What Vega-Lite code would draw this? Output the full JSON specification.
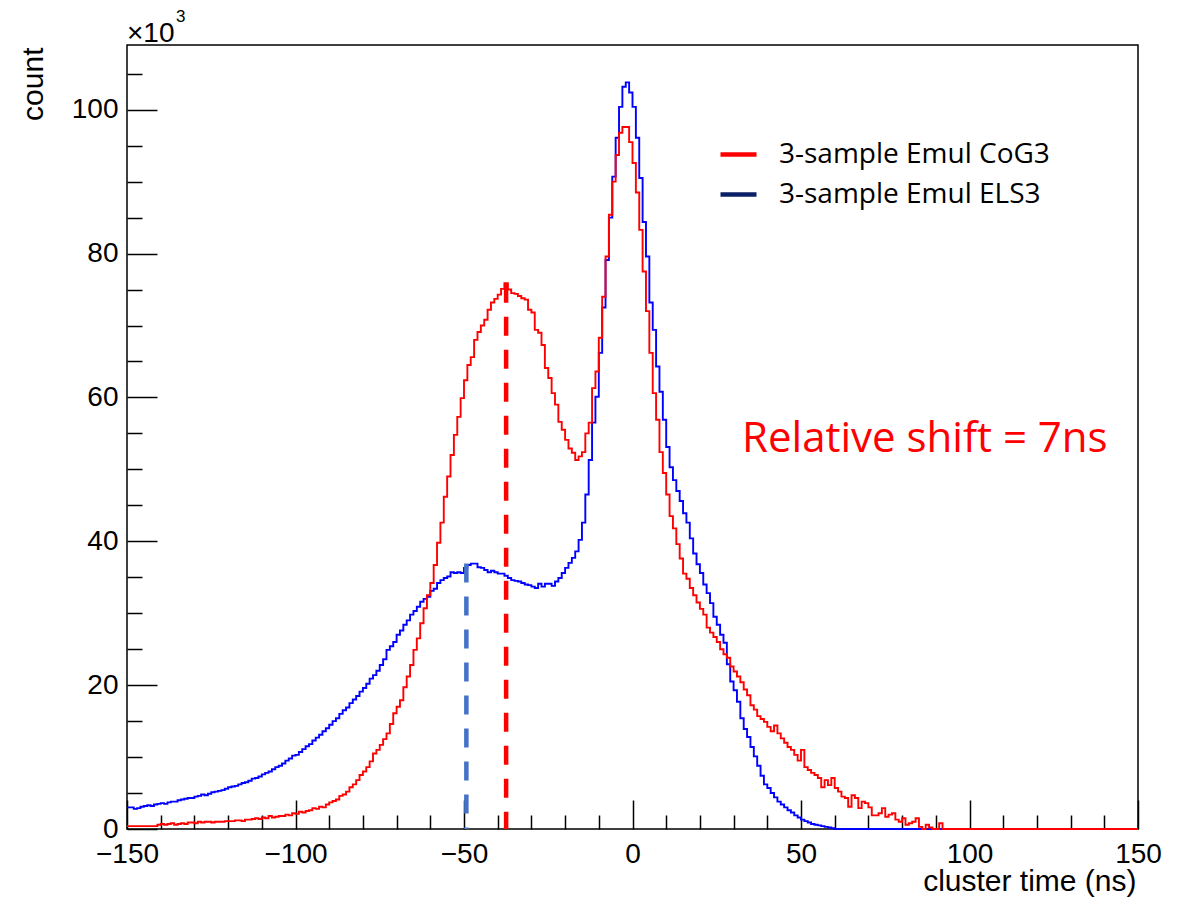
{
"$schema": "https://vega.github.io/schema/vega-lite/v6.json",
"width": 1011, "height": 784,
"autosize": {"type": "none"},
"padding": {"left": 127, "top": 45, "right": 46, "bottom": 69},
"background": "white",
"config": {"view": {"stroke": "#000", "strokeWidth": 1.5}, "font": "Liberation Sans"},
"resolve": {"axis": {"x": "independent", "y": "independent"}},
"data": {"values": [
{"t":-150,"cog":0.4,"els":3.0},{"t":-149,"cog":0.4,"els":3.0},{"t":-148,"cog":0.4,"els":2.8},{"t":-147,"cog":0.4,"els":2.9},{"t":-146,"cog":0.4,"els":3.1},
{"t":-145,"cog":0.4,"els":3.2},{"t":-144,"cog":0.4,"els":3.3},{"t":-143,"cog":0.4,"els":3.2},{"t":-142,"cog":0.4,"els":3.4},{"t":-141,"cog":0.6,"els":3.5},
{"t":-140,"cog":0.7,"els":3.6},{"t":-139,"cog":0.6,"els":3.5},{"t":-138,"cog":0.7,"els":3.7},{"t":-137,"cog":0.8,"els":3.8},{"t":-136,"cog":0.6,"els":3.8},
{"t":-135,"cog":0.7,"els":4.0},{"t":-134,"cog":0.8,"els":4.1},{"t":-133,"cog":0.7,"els":4.2},{"t":-132,"cog":0.9,"els":4.3},{"t":-131,"cog":0.9,"els":4.3},
{"t":-130,"cog":0.8,"els":4.5},{"t":-129,"cog":1.0,"els":4.6},{"t":-128,"cog":0.9,"els":4.8},{"t":-127,"cog":1.0,"els":4.7},{"t":-126,"cog":1.0,"els":4.9},
{"t":-125,"cog":0.9,"els":5.1},{"t":-124,"cog":1.0,"els":5.2},{"t":-123,"cog":1.0,"els":5.3},{"t":-122,"cog":1.0,"els":5.4},{"t":-121,"cog":1.1,"els":5.6},
{"t":-120,"cog":1.1,"els":5.8},{"t":-119,"cog":1.1,"els":5.9},{"t":-118,"cog":1.2,"els":6.0},{"t":-117,"cog":1.2,"els":6.2},{"t":-116,"cog":1.1,"els":6.4},
{"t":-115,"cog":1.3,"els":6.5},{"t":-114,"cog":1.3,"els":6.7},{"t":-113,"cog":1.4,"els":7.0},{"t":-112,"cog":1.5,"els":7.1},{"t":-111,"cog":1.4,"els":7.3},
{"t":-110,"cog":1.6,"els":7.6},{"t":-109,"cog":1.5,"els":7.8},{"t":-108,"cog":1.8,"els":8.0},{"t":-107,"cog":1.6,"els":8.3},{"t":-106,"cog":1.7,"els":8.6},
{"t":-105,"cog":1.8,"els":8.8},{"t":-104,"cog":1.8,"els":9.1},{"t":-103,"cog":2.0,"els":9.5},{"t":-102,"cog":1.9,"els":9.8},{"t":-101,"cog":2.2,"els":10.2},
{"t":-100,"cog":2.1,"els":10.3},{"t":-99,"cog":2.4,"els":10.7},{"t":-98,"cog":2.3,"els":11.1},{"t":-97,"cog":2.5,"els":11.5},{"t":-96,"cog":2.6,"els":11.8},
{"t":-95,"cog":2.9,"els":12.3},{"t":-94,"cog":2.8,"els":12.7},{"t":-93,"cog":3.1,"els":13.1},{"t":-92,"cog":3.0,"els":13.6},{"t":-91,"cog":3.4,"els":14.0},
{"t":-90,"cog":3.7,"els":14.5},{"t":-89,"cog":3.9,"els":15.0},{"t":-88,"cog":4.1,"els":15.4},{"t":-87,"cog":4.6,"els":16.0},{"t":-86,"cog":4.8,"els":16.5},
{"t":-85,"cog":5.2,"els":16.9},{"t":-84,"cog":5.8,"els":17.5},{"t":-83,"cog":6.2,"els":18.0},{"t":-82,"cog":6.8,"els":18.5},{"t":-81,"cog":7.5,"els":19.1},
{"t":-80,"cog":8.0,"els":19.6},{"t":-79,"cog":8.6,"els":20.2},{"t":-78,"cog":9.4,"els":20.9},{"t":-77,"cog":10.5,"els":21.4},{"t":-76,"cog":11.0,"els":22.0},
{"t":-75,"cog":11.7,"els":22.8},{"t":-74,"cog":12.5,"els":23.6},{"t":-73,"cog":13.3,"els":24.9},{"t":-72,"cog":14.6,"els":25.4},{"t":-71,"cog":16.1,"els":26.0},
{"t":-70,"cog":17.0,"els":27.0},{"t":-69,"cog":17.9,"els":27.6},{"t":-68,"cog":19.7,"els":28.4},{"t":-67,"cog":21.2,"els":29.0},{"t":-66,"cog":22.8,"els":29.8},
{"t":-65,"cog":24.9,"els":30.3},{"t":-64,"cog":26.5,"els":30.9},{"t":-63,"cog":28.6,"els":31.6},{"t":-62,"cog":30.7,"els":32.0},{"t":-61,"cog":32.5,"els":32.3},
{"t":-60,"cog":34.2,"els":33.1},{"t":-59,"cog":36.7,"els":33.4},{"t":-58,"cog":39.8,"els":34.2},{"t":-57,"cog":42.6,"els":34.6},{"t":-56,"cog":46.2,"els":34.9},
{"t":-55,"cog":49.0,"els":35.1},{"t":-54,"cog":52.0,"els":35.7},{"t":-53,"cog":54.8,"els":35.6},{"t":-52,"cog":57.3,"els":35.7},{"t":-51,"cog":59.9,"els":35.6},
{"t":-50,"cog":62.4,"els":36.3},{"t":-49,"cog":64.5,"els":36.7},{"t":-48,"cog":65.6,"els":36.9},{"t":-47,"cog":68.0,"els":36.9},{"t":-46,"cog":69.1,"els":36.4},
{"t":-45,"cog":70.0,"els":36.3},{"t":-44,"cog":70.8,"els":36.0},{"t":-43,"cog":72.2,"els":35.7},{"t":-42,"cog":73.2,"els":35.9},{"t":-41,"cog":73.7,"els":35.7},
{"t":-40,"cog":74.3,"els":35.5},{"t":-39,"cog":75.1,"els":35.5},{"t":-38,"cog":75.9,"els":35.2},{"t":-37,"cog":75.0,"els":34.9},{"t":-36,"cog":74.5,"els":34.6},
{"t":-35,"cog":74.4,"els":34.5},{"t":-34,"cog":74.1,"els":34.4},{"t":-33,"cog":73.8,"els":34.2},{"t":-32,"cog":73.6,"els":34.0},{"t":-31,"cog":72.2,"els":33.9},
{"t":-30,"cog":71.8,"els":33.7},{"t":-29,"cog":69.4,"els":33.5},{"t":-28,"cog":69.0,"els":34.1},{"t":-27,"cog":67.3,"els":33.7},{"t":-26,"cog":64.1,"els":34.1},
{"t":-25,"cog":62.7,"els":34.1},{"t":-24,"cog":60.6,"els":33.8},{"t":-23,"cog":59.0,"els":34.4},{"t":-22,"cog":56.6,"els":34.9},{"t":-21,"cog":55.5,"els":35.6},
{"t":-20,"cog":54.1,"els":36.3},{"t":-19,"cog":52.9,"els":37.0},{"t":-18,"cog":52.3,"els":37.7},{"t":-17,"cog":51.3,"els":38.6},{"t":-16,"cog":51.8,"els":40.2},
{"t":-15,"cog":52.4,"els":42.6},{"t":-14,"cog":55.0,"els":46.5},{"t":-13,"cog":56.5,"els":51.3},{"t":-12,"cog":61.3,"els":56.5},{"t":-11,"cog":63.6,"els":60.1},
{"t":-10,"cog":68.3,"els":66.2},{"t":-9,"cog":74.0,"els":72.5},{"t":-8,"cog":79.6,"els":79.1},{"t":-7,"cog":85.4,"els":85.0},{"t":-6,"cog":90.0,"els":90.7},
{"t":-5,"cog":93.7,"els":96.1},{"t":-4,"cog":96.8,"els":100.4},{"t":-3,"cog":97.6,"els":103.2},{"t":-2,"cog":97.6,"els":103.8},{"t":-1,"cog":95.5,"els":102.4},
{"t":0,"cog":92.6,"els":100.4},{"t":1,"cog":88.5,"els":96.1},{"t":2,"cog":83.3,"els":90.5},{"t":3,"cog":77.5,"els":84.4},{"t":4,"cog":72.0,"els":79.6},
{"t":5,"cog":66.2,"els":73.2},{"t":6,"cog":60.6,"els":69.4},{"t":7,"cog":56.9,"els":64.3},{"t":8,"cog":52.4,"els":60.8},{"t":9,"cog":49.5,"els":56.9},
{"t":10,"cog":46.5,"els":53.1},{"t":11,"cog":43.5,"els":50.3},{"t":12,"cog":41.8,"els":48.5},{"t":13,"cog":39.6,"els":47.0},{"t":14,"cog":37.6,"els":45.6},
{"t":15,"cog":35.5,"els":43.9},{"t":16,"cog":34.8,"els":42.6},{"t":17,"cog":33.5,"els":40.4},{"t":18,"cog":32.5,"els":38.3},{"t":19,"cog":31.5,"els":36.8},
{"t":20,"cog":30.6,"els":35.6},{"t":21,"cog":29.8,"els":34.0},{"t":22,"cog":28.0,"els":32.8},{"t":23,"cog":27.3,"els":31.4},{"t":24,"cog":26.7,"els":29.5},
{"t":25,"cog":26.0,"els":28.4},{"t":26,"cog":25.0,"els":27.0},{"t":27,"cog":24.3,"els":25.9},{"t":28,"cog":23.8,"els":22.9},{"t":29,"cog":22.6,"els":20.5},
{"t":30,"cog":21.9,"els":19.3},{"t":31,"cog":21.2,"els":17.7},{"t":32,"cog":20.4,"els":15.4},{"t":33,"cog":19.4,"els":13.9},{"t":34,"cog":18.6,"els":12.8},
{"t":35,"cog":17.2,"els":11.4},{"t":36,"cog":16.6,"els":10.1},{"t":37,"cog":15.7,"els":8.8},{"t":38,"cog":15.3,"els":7.4},{"t":39,"cog":14.9,"els":6.2},
{"t":40,"cog":14.2,"els":5.7},{"t":41,"cog":13.6,"els":5.0},{"t":42,"cog":14.4,"els":4.4},{"t":43,"cog":13.3,"els":3.8},{"t":44,"cog":12.6,"els":3.4},
{"t":45,"cog":12.0,"els":3.0},{"t":46,"cog":11.4,"els":2.6},{"t":47,"cog":11.0,"els":2.3},{"t":48,"cog":10.3,"els":1.9},{"t":49,"cog":9.5,"els":1.6},
{"t":50,"cog":11.0,"els":1.3},{"t":51,"cog":8.6,"els":1.1},{"t":52,"cog":8.2,"els":0.9},{"t":53,"cog":7.8,"els":0.7},{"t":54,"cog":7.5,"els":0.6},
{"t":55,"cog":7.1,"els":0.5},{"t":56,"cog":5.8,"els":0.4},{"t":57,"cog":6.8,"els":0.3},{"t":58,"cog":6.1,"els":0.2},{"t":59,"cog":7.1,"els":0.1},
{"t":60,"cog":5.7,"els":0},{"t":61,"cog":5.2,"els":0},{"t":62,"cog":4.5,"els":0},{"t":63,"cog":4.3,"els":0},{"t":64,"cog":3.1,"els":0},
{"t":65,"cog":4.7,"els":0},{"t":66,"cog":4.3,"els":0},{"t":67,"cog":2.9,"els":0},{"t":68,"cog":3.8,"els":0},{"t":69,"cog":3.6,"els":0},
{"t":70,"cog":3.0,"els":0},{"t":71,"cog":1.9,"els":0},{"t":72,"cog":1.9,"els":0},{"t":73,"cog":2.2,"els":0},{"t":74,"cog":2.9,"els":0},
{"t":75,"cog":1.7,"els":0},{"t":76,"cog":2.0,"els":0},{"t":77,"cog":2.2,"els":0},{"t":78,"cog":1.3,"els":0},{"t":79,"cog":1.0,"els":0},
{"t":80,"cog":1.5,"els":0},{"t":81,"cog":0.6,"els":0},{"t":82,"cog":0.8,"els":0},{"t":83,"cog":1.0,"els":0},{"t":84,"cog":1.5,"els":0},
{"t":85,"cog":0.3,"els":0},{"t":86,"cog":0,"els":0},{"t":87,"cog":0.6,"els":0},{"t":88,"cog":0.2,"els":0},{"t":89,"cog":0,"els":0},
{"t":90,"cog":0,"els":0},{"t":91,"cog":0.8,"els":0},{"t":92,"cog":0,"els":0},{"t":93,"cog":0,"els":0},{"t":94,"cog":0,"els":0},
{"t":95,"cog":0,"els":0},{"t":100,"cog":0,"els":0},{"t":110,"cog":0,"els":0},{"t":120,"cog":0,"els":0},{"t":130,"cog":0,"els":0},
{"t":140,"cog":0,"els":0},{"t":150,"cog":0,"els":0}
]},
"layer": [
{"mark": {"type": "line", "interpolate": "step-after", "strokeWidth": 1.9, "stroke": "#0000ff"},
 "encoding": {
  "x": {"field": "t", "type": "quantitative", "scale": {"domain": [-150, 150], "nice": false, "zero": false},
   "axis": {"orient": "bottom", "values": [-150,-100,-50,0,50,100,150],
    "tickSize": -29, "tickColor": "#000", "tickWidth": 1.5, "domain": false, "grid": false,
    "labelFont": "Liberation Sans", "labelFontSize": 28, "labelColor": "#000", "labelPadding": 40,
    "labelFlush": false, "labelOverlap": false, "labelBound": false,
    "title": "cluster time (ns)", "titleFont": "Liberation Sans", "titleFontSize": 30, "titleFontWeight": "normal", "titleColor": "#000",
    "titleAnchor": "end", "titleAlign": "right", "titleX": 1009, "titleY": 61, "titleBaseline": "alphabetic"}},
  "y": {"field": "els", "type": "quantitative", "scale": {"domain": [0, 109], "nice": false},
   "axis": {"orient": "left", "values": [0,20,40,60,80,100],
    "tickSize": -30, "tickColor": "#000", "tickWidth": 1.5, "domain": false, "grid": false,
    "labelFont": "Liberation Sans", "labelFontSize": 28, "labelColor": "#000", "labelPadding": 39,
    "labelFlush": false, "labelOverlap": false, "labelBound": false,
    "title": "count", "titleFont": "Liberation Sans", "titleFontSize": 30, "titleFontWeight": "normal", "titleColor": "#000",
    "titleAngle": -90, "titleAlign": "right", "titleBaseline": "alphabetic", "titleX": -85, "titleY": 2}}
 }},
{"mark": {"type": "line", "interpolate": "step-after", "strokeWidth": 1.9, "stroke": "#ff0000"},
 "encoding": {
  "x": {"field": "t", "type": "quantitative",
   "axis": {"orient": "bottom", "values": [-140,-130,-120,-110,-90,-80,-70,-60,-40,-30,-20,-10,10,20,30,40,60,70,80,90,110,120,130,140],
    "tickSize": -14, "tickColor": "#000", "tickWidth": 1.5, "domain": false, "grid": false, "labels": false, "title": null}},
  "y": {"field": "cog", "type": "quantitative",
   "axis": {"orient": "left", "values": [5,10,15,25,30,35,45,50,55,65,70,75,85,90,95,105],
    "tickSize": -15, "tickColor": "#000", "tickWidth": 1.5, "domain": false, "grid": false, "labels": false, "title": null}}
 }},
{"data": {"values": [{"series": "3-sample Emul CoG3", "t": 200, "v": 0}, {"series": "3-sample Emul ELS3", "t": 200, "v": 0}]},
 "mark": {"type": "line", "clip": true, "strokeWidth": 4.5},
 "encoding": {
  "x": {"field": "t", "type": "quantitative", "axis": null},
  "y": {"field": "v", "type": "quantitative", "axis": null},
  "stroke": {"field": "series", "type": "nominal",
   "scale": {"domain": ["3-sample Emul CoG3", "3-sample Emul ELS3"], "range": ["#ff0000", "#0a1f64"]},
   "legend": {"orient": "none", "legendX": 591, "legendY": 89, "title": null, "padding": 0,
    "symbolType": "stroke", "symbolSize": 1296, "symbolStrokeWidth": 4.5, "labelOffset": 20, "rowPadding": 5,
    "labelFont": "Open Sans", "labelFontSize": 28, "labelColor": "#000", "labelLimit": 600}}
 }},
{"data": {"values": [{"t": -49.3, "top": 36.9}]},
 "mark": {"type": "rule", "color": "#4472c4", "strokeWidth": 4.5, "strokeDash": [19, 14]},
 "encoding": {"x": {"field": "t", "type": "quantitative", "axis": null}, "y": {"field": "top", "type": "quantitative", "axis": null}, "y2": {"datum": 0}}},
{"data": {"values": [{"t": -37.5, "top": 75.8}]},
 "mark": {"type": "rule", "color": "#ff0000", "strokeWidth": 4.5, "strokeDash": [19, 14]},
 "encoding": {"x": {"field": "t", "type": "quantitative", "axis": null}, "y": {"field": "top", "type": "quantitative", "axis": null}, "y2": {"datum": 0}}},
{"data": {"values": [{"t": 32.5, "v": 52.4, "label": "Relative shift = 7ns"}]},
 "mark": {"type": "text", "align": "left", "baseline": "alphabetic", "font": "Open Sans", "fontSize": 42, "color": "#ff0000"},
 "encoding": {"x": {"field": "t", "type": "quantitative", "axis": null}, "y": {"field": "v", "type": "quantitative", "axis": null}, "text": {"field": "label"}}},
{"data": {"values": [{"t": -150, "v": 109, "label": "×10"}]},
 "mark": {"type": "text", "align": "left", "baseline": "alphabetic", "font": "Liberation Sans", "fontSize": 28, "color": "#000", "dy": -3},
 "encoding": {"x": {"field": "t", "type": "quantitative", "axis": null}, "y": {"field": "v", "type": "quantitative", "axis": null}, "text": {"field": "label"}}},
{"data": {"values": [{"t": -150, "v": 109, "label": "3"}]},
 "mark": {"type": "text", "align": "left", "baseline": "alphabetic", "font": "Liberation Sans", "fontSize": 17, "color": "#000", "dx": 49, "dy": -23},
 "encoding": {"x": {"field": "t", "type": "quantitative", "axis": null}, "y": {"field": "v", "type": "quantitative", "axis": null}, "text": {"field": "label"}}}
]
}
